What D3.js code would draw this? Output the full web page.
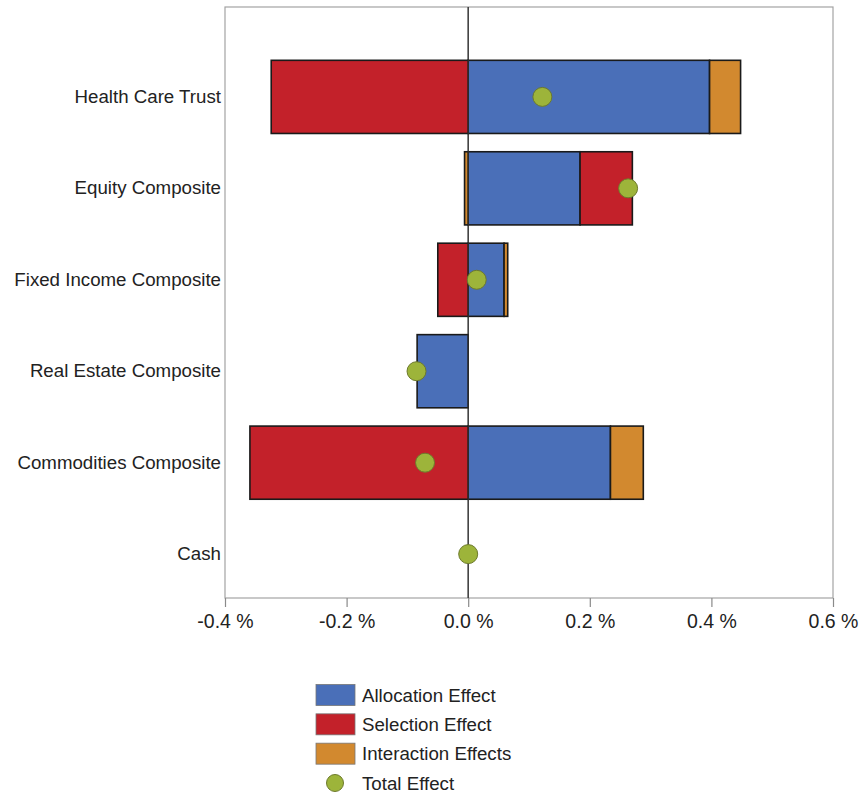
<!DOCTYPE html>
<html>
<head>
<meta charset="utf-8">
<script src="https://cdn.jsdelivr.net/npm/d3@7"></script>
<style>
  html, body { margin: 0; padding: 0; background: #fff; }
  svg { display: block; font-family: "Liberation Sans", Arial, sans-serif; }
</style>
</head>
<body>
<svg id="chart" width="862" height="795"></svg>
<script>
// ---- data ----
const categories = ["Health Care Trust", "Equity Composite", "Fixed Income Composite",
                    "Real Estate Composite", "Commodities Composite", "Cash"];
const allocationEffect  = [0.397, 0.184, 0.059, -0.084, 0.234, 0.000];
const selectionEffect   = [-0.324, 0.086, -0.050, 0.000, -0.359, 0.000];
const interactionEffect = [0.051, -0.006, 0.006, 0.000, 0.054, 0.000];
const totalEffect       = [0.122, 0.263, 0.014, -0.085, -0.071, 0.000];
const xTicks = [-0.4, -0.2, 0.0, 0.2, 0.4, 0.6];
const seriesNames = ["Allocation Effect", "Selection Effect", "Interaction Effects"];
const totalName = "Total Effect";

// ---- style ----
const colors = ["#4a6fb8", "#c3212a", "#d2892f"];
const dotColor = "#9db43a", dotStroke = "#6d7a2c";

const svg = d3.select("#chart");
const plot = { left: 225, top: 7, right: 833, bottom: 598 };

const x = d3.scaleLinear().domain([-0.4, 0.6]).range([plot.left, plot.right]);
const y = d3.scaleBand().domain(categories)
  .range([plot.top + 46, plot.bottom]).paddingInner(0.2).paddingOuter(0.08);

const rows = categories.map((c, i) => ({
  cat: c,
  "Allocation Effect": allocationEffect[i],
  "Selection Effect": selectionEffect[i],
  "Interaction Effects": interactionEffect[i]
}));
const stack = d3.stack().keys(seriesNames).offset(d3.stackOffsetDiverging);
const stacked = stack(rows);

// plot frame
svg.append("rect")
  .attr("x", plot.left).attr("y", plot.top)
  .attr("width", plot.right - plot.left).attr("height", plot.bottom - plot.top)
  .attr("fill", "none").attr("stroke", "#a3a3a3").attr("stroke-width", 1.2);

// zero line
svg.append("line")
  .attr("x1", x(0)).attr("x2", x(0))
  .attr("y1", plot.top).attr("y2", plot.bottom)
  .attr("stroke", "#555").attr("stroke-width", 1.3);

// bars
svg.append("g").selectAll("g").data(stacked).join("g")
  .attr("fill", (d, i) => colors[i])
  .selectAll("rect")
  .data(d => d.filter(s => s[1] - s[0] !== 0))
  .join("rect")
  .attr("x", d => x(Math.min(d[0], d[1])))
  .attr("width", d => Math.abs(x(d[1]) - x(d[0])))
  .attr("y", d => y(d.data.cat))
  .attr("height", y.bandwidth())
  .attr("stroke", "#1a1a1a").attr("stroke-width", 1.6);

// zero line over bars (thin)
svg.append("line")
  .attr("x1", x(0)).attr("x2", x(0))
  .attr("y1", plot.top).attr("y2", plot.bottom)
  .attr("stroke", "#333").attr("stroke-width", 1);

// total dots
svg.append("g").selectAll("circle").data(categories).join("circle")
  .attr("cx", (c, i) => x(totalEffect[i]))
  .attr("cy", c => y(c) + y.bandwidth() / 2)
  .attr("r", 9.5)
  .attr("fill", dotColor).attr("stroke", dotStroke).attr("stroke-width", 1);

// x axis
const xAxis = d3.axisBottom(x).tickValues(xTicks)
  .tickFormat(d => d3.format(".1f")(d).replace("−", "-") + " %")
  .tickSize(9).tickPadding(7);
const gx = svg.append("g").attr("transform", `translate(0,${plot.bottom})`).call(xAxis);
gx.select(".domain").remove();
gx.selectAll(".tick line").attr("stroke", "#8a8a8a").attr("stroke-width", 1.2);
gx.selectAll(".tick text").attr("fill", "#222").attr("font-size", 19.5)
  .attr("font-family", "'Liberation Sans', Arial, sans-serif");

// y axis labels
const yAxis = d3.axisLeft(y).tickSize(0).tickPadding(4);
const gy = svg.append("g").attr("transform", `translate(${plot.left},0)`).call(yAxis);
gy.select(".domain").remove();
gy.selectAll(".tick text").attr("fill", "#222").attr("font-size", 18.7)
  .attr("font-family", "'Liberation Sans', Arial, sans-serif");

// legend
const legend = svg.append("g");
const legendItems = seriesNames.concat([totalName]);
const legY = d3.scalePoint().domain(legendItems).range([695, 783]);
legendItems.forEach((name, i) => {
  const cy = legY(name);
  if (i < 3) {
    legend.append("rect").attr("x", 316).attr("y", cy - 10.5)
      .attr("width", 39).attr("height", 21)
      .attr("fill", colors[i]).attr("stroke", "#777").attr("stroke-width", 0.8);
  } else {
    legend.append("circle").attr("cx", 335).attr("cy", cy).attr("r", 8.5)
      .attr("fill", dotColor).attr("stroke", dotStroke).attr("stroke-width", 1);
  }
  legend.append("text").attr("x", 362).attr("y", cy).attr("dy", "0.35em")
    .attr("font-size", 18.7).attr("fill", "#222").text(name);
});
</script>
</body>
</html>
